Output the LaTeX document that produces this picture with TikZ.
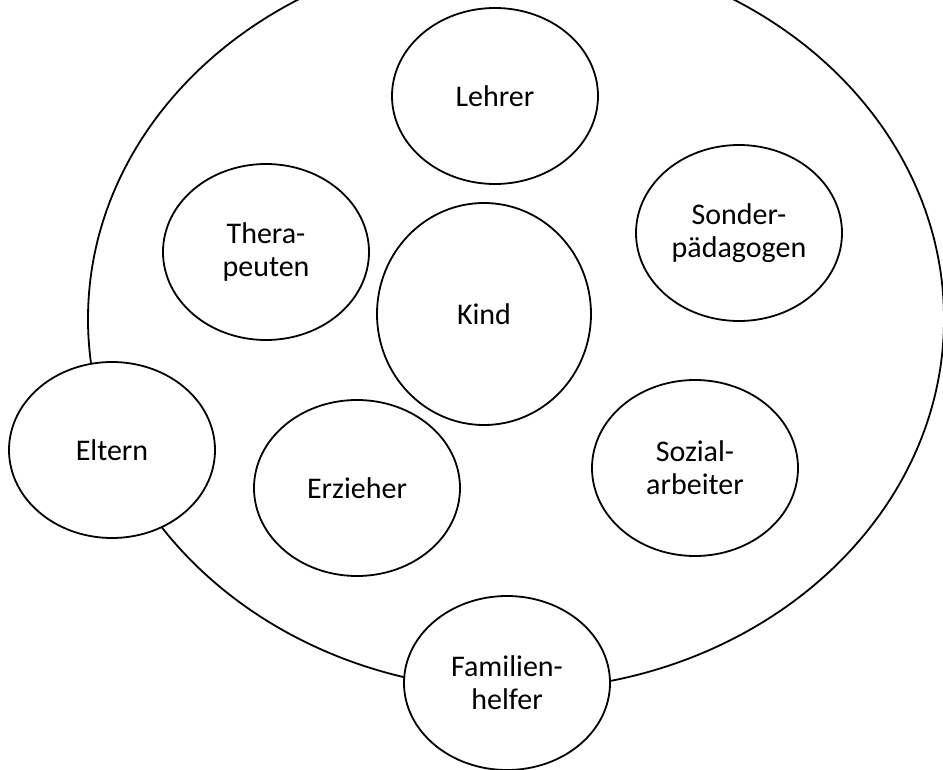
\documentclass[tikz,border=0pt]{standalone}
\usepackage{fontspec}
\setmainfont{Carlito}
\usetikzlibrary{shapes.geometric}
\begin{document}
\begin{tikzpicture}[x=1pt,y=-1pt,
  lw/.style={line width=1.8pt},
  bub/.style={ellipse,draw,lw,fill=white,inner sep=0pt,align=center,
    minimum width=206pt,minimum height=176pt,
    font=\fontsize{30}{33}\selectfont}]
\useasboundingbox (0,0) rectangle (943,770);
\begin{scope}
\clip (0,0) rectangle (943,770);
\node[ellipse,draw,lw,inner sep=0pt,minimum width=856pt,minimum height=742pt] (outer) at (516,319) {};
\end{scope}
\node[bub] (lehrer) at (495,96) {Lehrer};
\node[bub] (thera) at (266,252) {Thera-\\peuten};
\node[bub] (sonder) at (739,233) {Sonder-\\pädagogen};
\node[bub,minimum width=214pt,minimum height=222pt] (kind) at (484,314) {Kind};
\node[bub] (eltern) at (112,450) {Eltern};
\node[bub] (erzieher) at (357,488) {Erzieher};
\node[bub] (sozial) at (695,468) {Sozial-\\arbeiter};
\node[bub,minimum height=174pt] (familie) at (507,683) {Familien-\\helfer};
\end{tikzpicture}
\end{document}
